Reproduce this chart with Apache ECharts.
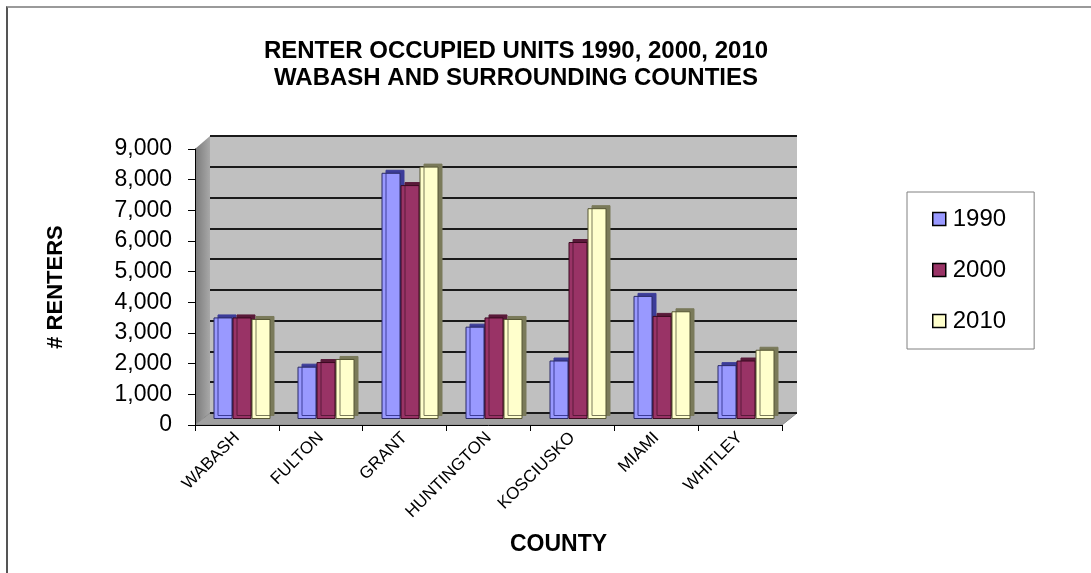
<!DOCTYPE html>
<html>
<head>
<meta charset="utf-8">
<title>Renter Occupied Units</title>
<script src="https://cdn.jsdelivr.net/npm/echarts@6/dist/echarts.min.js"></script>
<style>
  body { margin: 0; background: #fff; }
  #wrap { position: relative; width: 1091px; height: 573px; overflow: hidden; }
  #frame {
    position: absolute; left: 6px; top: 6px; width: 1100px; height: 600px;
    border-top: 2px solid #9a9a9a; border-left: 2px solid #555;
  }
  #chart { position: absolute; left: 0; top: 0; width: 1091px; height: 573px; }
</style>
</head>
<body>
<div id="wrap">
  <div id="frame"></div>
  <div id="chart"></div>
</div>
<script>
// data
var counties = ['WABASH', 'FULTON', 'GRANT', 'HUNTINGTON', 'KOSCIUSKO', 'MIAMI', 'WHITLEY']
var years = ['1990', '2000', '2010']
var renters1990 = [3300, 1700, 8000, 3000, 1900, 4000, 1750]
var renters2000 = [3300, 1850, 7600, 3300, 5750, 3350, 1900]
var renters2010 = [3250, 1950, 8200, 3250, 6850, 3500, 2250]
var yTicks = [0, 9000, 1000] // min, max, step

var colors = ['#9999ff', '#993366', '#ffffcc']
var borders = ['#2b2b66', '#3a0a20', '#555533']
var sides = ['#3c3c99', '#5a1a3a', '#7a7a5a'] // fake 3d depth

var myChart = echarts.init(document.getElementById('chart'))

var font = 'Liberation Sans, Arial, sans-serif'

function barSeries(name, data, i) {
  return {
    name: name,
    type: 'bar',
    xAxisIndex: 1,
    yAxisIndex: 1,
    barWidth: 19,
    barGap: '0%',
    data: data,
    itemStyle: {
      color: colors[i],
      borderColor: borders[i],
      borderWidth: 1,
      shadowColor: sides[i],
      shadowBlur: 0,
      shadowOffsetX: 4,
      shadowOffsetY: -3
    },
    emphasis: { disabled: true }
  }
}

var option = {
  animation: false,
  textStyle: { fontFamily: font },
  title: {
    text: 'RENTER OCCUPIED UNITS 1990, 2000, 2010\nWABASH AND SURROUNDING COUNTIES',
    left: 511,
    top: 33,
    textAlign: 'center',
    textStyle: { fontSize: 24, fontWeight: 'bold', color: '#000', lineHeight: 27, fontFamily: font }
  },
  legend: {
    data: years,
    orient: 'vertical',
    left: 907,
    top: 192,
    padding: [15, 28, 16, 25],
    itemGap: 27,
    itemWidth: 13,
    itemHeight: 13,
    icon: 'rect',
    backgroundColor: '#fff',
    borderColor: '#808080',
    borderWidth: 1,
    itemStyle: { borderColor: '#000', borderWidth: 1.5, shadowOffsetX: 0, shadowOffsetY: 0 },
    textStyle: { fontSize: 24, color: '#000', lineHeight: 24, padding: [0, 0, 0, 2], fontFamily: font }
  },
  graphic: [
    // side wall and floor of the 3D box
    {
      type: 'polygon',
      z: -1,
      shape: { points: [[195, 149], [210, 136], [210, 413], [195, 425]] },
      style: {
        fill: new echarts.graphic.LinearGradient(0, 0, 1, 0, [
          { offset: 0, color: '#7a7a7a' }, { offset: 1, color: '#a8a8a8' }
        ])
      }
    },
    {
      type: 'polygon',
      z: -1,
      shape: { points: [[195, 425], [210, 413], [797, 413], [782, 425]] },
      style: { fill: '#a0a0a0', stroke: '#888', lineWidth: 1 }
    }
  ],
  grid: [
    // back wall
    { left: 210, right: 294, top: 136, bottom: 160, show: true, backgroundColor: '#c0c0c0', borderWidth: 0 },
    // bars, mid depth
    { left: 200, right: 303, top: 142, bottom: 154 },
    // front axes
    { left: 195, right: 309, top: 149, bottom: 148 }
  ],
  xAxis: [
    { gridIndex: 0, type: 'category', data: counties, show: false },
    { gridIndex: 1, type: 'category', data: counties, show: false },
    {
      gridIndex: 2,
      type: 'category',
      data: counties,
      name: 'COUNTY',
      nameLocation: 'middle',
      nameGap: 108,
      nameTextStyle: { fontSize: 23, fontWeight: 'bold', color: '#000', padding: [0, 0, 0, 140] },
      axisLine: { lineStyle: { color: '#000', width: 1 } },
      axisTick: { show: true, length: 6, lineStyle: { color: '#000' } },
      axisLabel: { rotate: 45, fontSize: 17, color: '#000', margin: 10, interval: 0 },
      splitLine: { show: false }
    }
  ],
  yAxis: [
    {
      gridIndex: 0, type: 'value', min: yTicks[0], max: yTicks[1], interval: yTicks[2],
      axisLabel: { show: false }, axisLine: { show: false }, axisTick: { show: false },
      splitLine: { show: true, lineStyle: { color: '#1a1a1a', width: 2 } }
    },
    {
      gridIndex: 1, type: 'value', min: yTicks[0], max: yTicks[1], interval: yTicks[2],
      show: false, splitLine: { show: false }
    },
    {
      gridIndex: 2, type: 'value', min: yTicks[0], max: yTicks[1], interval: yTicks[2],
      name: '# RENTERS',
      nameLocation: 'middle',
      nameGap: 128,
      nameRotate: 90,
      nameTextStyle: { fontSize: 22, fontWeight: 'bold', color: '#000' },
      axisLine: { show: true, lineStyle: { color: '#000', width: 1 } },
      axisTick: { show: true, length: 7, lineStyle: { color: '#000' } },
      axisLabel: {
        fontSize: 23, color: '#000', margin: 23,
        formatter: function (v) { return v.toLocaleString('en-US') }
      },
      splitLine: { show: false }
    }
  ],
  series: [
    barSeries('1990', renters1990, 0),
    barSeries('2000', renters2000, 1),
    barSeries('2010', renters2010, 2)
  ]
}

myChart.setOption(option)
</script>
</body>
</html>
